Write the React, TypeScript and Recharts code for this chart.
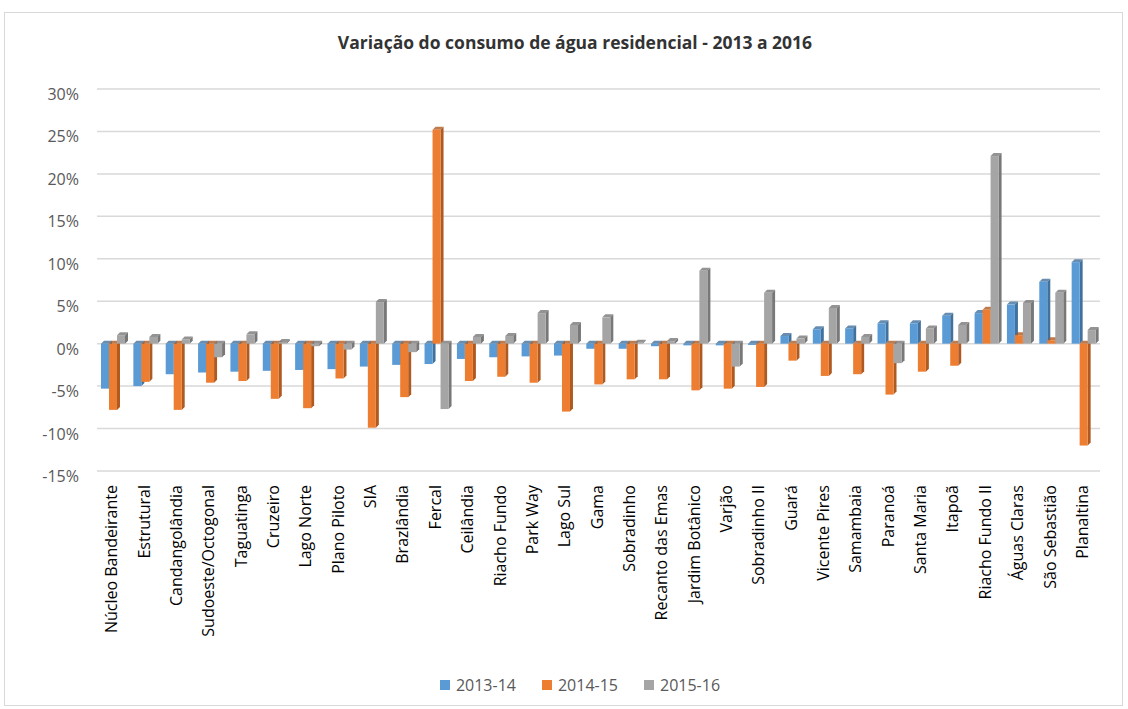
import React from "react";
import { BarChart, Bar, XAxis, YAxis, CartesianGrid } from "recharts";

const CATEGORIES = [
  "Núcleo Bandeirante", "Estrutural", "Candangolândia", "Sudoeste/Octogonal",
  "Taguatinga", "Cruzeiro", "Lago Norte", "Plano Piloto", "SIA", "Brazlândia",
  "Fercal", "Ceilândia", "Riacho Fundo", "Park Way", "Lago Sul", "Gama",
  "Sobradinho", "Recanto das Emas", "Jardim Botânico", "Varjão", "Sobradinho II",
  "Guará", "Vicente Pires", "Samambaia", "Paranoá", "Santa Maria", "Itapoã",
  "Riacho Fundo II", "Águas Claras", "São Sebastião", "Planaltina",
];

// valores em %
const V_2013_14 = [
  -5.3, -5.0, -3.6, -3.4, -3.3, -3.2, -3.1, -3.0, -2.7, -2.5,
  -2.4, -1.8, -1.6, -1.5, -1.4, -0.6, -0.6, -0.3, -0.2, -0.2,
  -0.15, 0.9, 1.7, 1.8, 2.4, 2.4, 3.3, 3.6, 4.6, 7.3, 9.6,
];
const V_2014_15 = [
  -7.8, -4.5, -7.8, -4.6, -4.4, -6.5, -7.6, -4.1, -9.9, -6.3,
  25.2, -4.4, -3.9, -4.6, -8.0, -4.8, -4.2, -4.2, -5.5, -5.3,
  -5.1, -2.0, -3.8, -3.6, -6.0, -3.3, -2.6, 4.0, 1.0, 0.4, -12.0,
];
const V_2015_16 = [
  1.0, 0.8, 0.5, -1.6, 1.1, 0.2, -0.3, -0.7, 4.9, -1.0,
  -7.7, 0.8, 0.9, 3.6, 2.2, 3.1, 0.1, 0.3, 8.6, -2.7,
  6.0, 0.6, 4.2, 0.8, -2.3, 1.8, 2.2, 22.1, 4.8, 6.0, 1.6,
];

const SERIES = [
  { key: "s1", name: "2013-14", color: "#5b9bd5", side: "#41719c", values: V_2013_14 },
  { key: "s2", name: "2014-15", color: "#ed7d31", side: "#ae5a21", values: V_2014_15 },
  { key: "s3", name: "2015-16", color: "#a5a5a5", side: "#787878", values: V_2015_16 },
];

const Y_TICKS = [-15, -10, -5, 0, 5, 10, 15, 20, 25, 30];

const data = CATEGORIES.map((name, i) => ({
  name,
  s1: V_2013_14[i],
  s2: V_2014_15[i],
  s3: V_2015_16[i],
}));

const FONT = "'Open Sans', sans-serif";
const TEXT_COLOR = "#595959";
const DEPTH = 3;

const make3DBar = (front: string, side: string) => (props: any) => {
  const { x, y, width, height } = props;
  if (x == null || y == null || !width) return null;
  const top = height < 0 ? y + height : y;
  const h = Math.abs(height);
  const bottom = top + h;
  const d = DEPTH;
  return (
    <g>
      <polygon
        points={`${x + width},${top} ${x + width + d},${top - d} ${x + width + d},${bottom - d} ${x + width},${bottom}`}
        fill={side}
      />
      <polygon
        points={`${x},${top} ${x + d},${top - d} ${x + width + d},${top - d} ${x + width},${top}`}
        fill={side}
        opacity={0.8}
      />
      <rect x={x} y={top} width={width} height={h} fill={front} />
    </g>
  );
};

const YTick = (props: any) => {
  const { x, y, payload } = props;
  return (
    <text x={x} y={y + 5} textAnchor="end" dominantBaseline="central" fill={TEXT_COLOR} fontSize={16} fontFamily={FONT}>
      {payload.value}%
    </text>
  );
};

const XTick = (props: any) => {
  const { x, y, payload } = props;
  const tx = x - 1.5;
  const ty = y + 6;
  return (
    <text
      x={tx}
      y={ty}
      transform={`rotate(-90, ${tx}, ${ty})`}
      textAnchor="end"
      dy="0.35em"
      fill="#000"
      fontSize={16}
      fontFamily={FONT}
    >
      {payload.value}
    </text>
  );
};

export default function App() {
  return (
    <div style={{ position: "absolute", left: 0, top: 0, width: 1128, height: 709, background: "#fff", fontFamily: FONT }}>
      <div style={{ position: "absolute", left: 4, top: 12, width: 1117, height: 692, border: "1px solid #d9d9d9" }} />
      <div
        style={{
          position: "absolute",
          left: 0,
          width: 1150,
          top: 29,
          textAlign: "center",
          fontSize: 17.5,
          fontWeight: 700,
          color: "#333",
          lineHeight: "26px",
        }}
      >
        Variação do consumo de água residencial - 2013 a 2016
      </div>
      <div style={{ position: "absolute", left: 0, top: 0 }}>
        <BarChart
          width={1128}
          height={709}
          data={data}
          margin={{ top: 89, right: 28, left: 0, bottom: 60 }}
          barGap={0}
          barSize={8}
        >
          <CartesianGrid vertical={false} stroke="#d9d9d9" strokeWidth={1.5} />
          <YAxis
            width={97}
            domain={[-15, 30]}
            ticks={Y_TICKS}
            axisLine={false}
            tickLine={false}
            tickMargin={12}
            tick={<YTick />}
            interval={0}
          />
          <XAxis
            dataKey="name"
            height={178}
            interval={0}
            axisLine={false}
            tickLine={false}
            tick={<XTick />}
          />
          {SERIES.map((s) => (
            <Bar
              key={s.key}
              dataKey={s.key}
              name={s.name}
              fill={s.color}
              isAnimationActive={false}
              shape={make3DBar(s.color, s.side)}
            />
          ))}
        </BarChart>
      </div>
      <div
        style={{
          position: "absolute",
          top: 674,
          left: 5,
          width: 1150,
          display: "flex",
          justifyContent: "center",
          gap: 26,
          fontSize: 16,
          color: TEXT_COLOR,
          lineHeight: "22px",
        }}
      >
        {SERIES.map((s) => (
          <div key={s.key} style={{ display: "flex", alignItems: "center", gap: 6 }}>
            <span style={{ display: "inline-block", width: 10, height: 10, background: s.color }} />
            <span>{s.name}</span>
          </div>
        ))}
      </div>
    </div>
  );
}
